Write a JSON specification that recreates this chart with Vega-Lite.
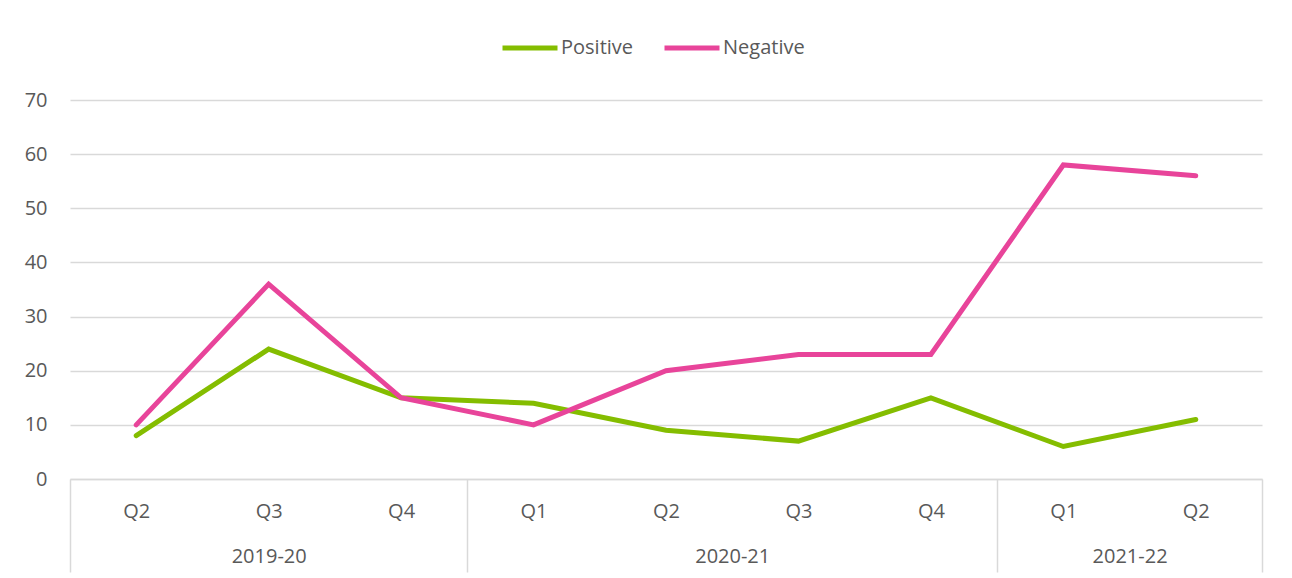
{
  "$schema": "https://vega.github.io/schema/vega-lite/v6.json",
  "autosize": "none",
  "width": 1192,
  "height": 379,
  "padding": {"left": 70, "top": 100, "right": 30, "bottom": 99},
  "background": "white",
  "config": {
    "font": "Open Sans",
    "view": {"stroke": null},
    "axis": {"labelFont": "Open Sans", "labelFontSize": 20, "labelColor": "#595959"},
    "legend": {"labelFont": "Open Sans", "labelFontSize": 20, "labelColor": "#595959"}
  },
  "data": {
    "values": [
      {"year": "2019-20", "quarter": "Q2", "n": 1, "series": "Positive", "value": 8},
      {"year": "2019-20", "quarter": "Q3", "n": 2, "series": "Positive", "value": 24},
      {"year": "2019-20", "quarter": "Q4", "n": 3, "series": "Positive", "value": 15},
      {"year": "2020-21", "quarter": "Q1", "n": 4, "series": "Positive", "value": 14},
      {"year": "2020-21", "quarter": "Q2", "n": 5, "series": "Positive", "value": 9},
      {"year": "2020-21", "quarter": "Q3", "n": 6, "series": "Positive", "value": 7},
      {"year": "2020-21", "quarter": "Q4", "n": 7, "series": "Positive", "value": 15},
      {"year": "2021-22", "quarter": "Q1", "n": 8, "series": "Positive", "value": 6},
      {"year": "2021-22", "quarter": "Q2", "n": 9, "series": "Positive", "value": 11},
      {"year": "2019-20", "quarter": "Q2", "n": 1, "series": "Negative", "value": 10},
      {"year": "2019-20", "quarter": "Q3", "n": 2, "series": "Negative", "value": 36},
      {"year": "2019-20", "quarter": "Q4", "n": 3, "series": "Negative", "value": 15},
      {"year": "2020-21", "quarter": "Q1", "n": 4, "series": "Negative", "value": 10},
      {"year": "2020-21", "quarter": "Q2", "n": 5, "series": "Negative", "value": 20},
      {"year": "2020-21", "quarter": "Q3", "n": 6, "series": "Negative", "value": 23},
      {"year": "2020-21", "quarter": "Q4", "n": 7, "series": "Negative", "value": 23},
      {"year": "2021-22", "quarter": "Q1", "n": 8, "series": "Negative", "value": 58},
      {"year": "2021-22", "quarter": "Q2", "n": 9, "series": "Negative", "value": 56}
    ]
  },
  "resolve": {"axis": {"x": "independent"}},
  "layer": [
    {
      "transform": [{"filter": "datum.series == 'Positive'"}],
      "mark": {"type": "line", "strokeWidth": 5, "strokeCap": "round"},
      "encoding": {
        "x": {
          "field": "n", "type": "quantitative",
          "scale": {"domain": [0.5, 9.5], "nice": false, "zero": false},
          "axis": {
            "orient": "bottom", "title": null, "grid": false,
            "values": [1, 2, 3, 4, 5, 6, 7, 8, 9],
            "labelExpr": "['Q2','Q3','Q4','Q1','Q2','Q3','Q4','Q1','Q2'][datum.value - 1]",
            "ticks": false, "labelPadding": 22, "labelFontSize": 20,
            "domainColor": "#d9d9d9", "domainWidth": 1.5,
            "labelOverlap": false, "labelFlush": false
          }
        },
        "y": {
          "field": "value", "type": "quantitative",
          "scale": {"domain": [0, 70], "nice": false},
          "axis": {
            "title": null, "values": [0, 10, 20, 30, 40, 50, 60, 70],
            "domain": false, "ticks": false, "labelPadding": 23, "labelFontSize": 20,
            "gridColor": "#d9d9d9", "gridWidth": 1.5
          }
        },
        "color": {
          "field": "series", "type": "nominal",
          "scale": {"domain": ["Positive", "Negative"], "range": ["#84bd00", "#e8449a"]},
          "legend": {
            "orient": "none", "legendX": 430, "legendY": -82,
            "title": null, "direction": "horizontal",
            "symbolType": "stroke", "symbolStrokeWidth": 5, "symbolSize": 3025,
            "labelFontSize": 20, "labelOffset": 1, "columnPadding": 20
          }
        }
      }
    },
    {
      "transform": [{"filter": "datum.series == 'Negative'"}],
      "mark": {"type": "line", "strokeWidth": 5, "strokeCap": "round"},
      "encoding": {
        "x": {
          "field": "n", "type": "quantitative",
          "axis": {
            "orient": "bottom", "title": null, "grid": false, "domain": false,
            "values": [0.5, 2, 3.5, 5.5, 7.5, 8.5, 9.5],
            "labelExpr": "datum.value == 2 ? '2019-20' : datum.value == 5.5 ? '2020-21' : datum.value == 8.5 ? '2021-22' : ''",
            "tickSize": 93, "tickColor": "#d9d9d9", "tickWidth": 1.5,
            "tickOpacity": {"condition": {"test": "datum.value == 2 || datum.value == 5.5 || datum.value == 8.5", "value": 0}, "value": 1},
            "labelPadding": -26, "labelFontSize": 20,
            "labelOverlap": false, "labelFlush": false, "labelBound": false
          }
        },
        "y": {"field": "value", "type": "quantitative"},
        "color": {"field": "series", "type": "nominal"}
      }
    }
  ]
}
